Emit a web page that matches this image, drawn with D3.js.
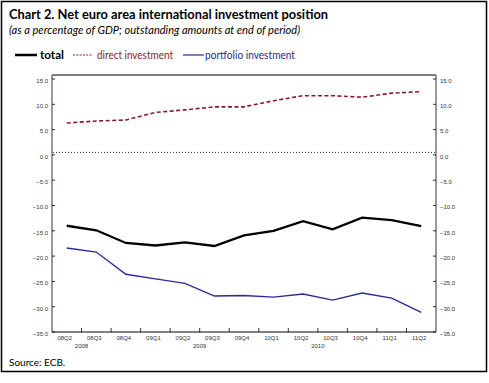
<!DOCTYPE html>
<html><head><meta charset="utf-8">
<script src="https://cdn.jsdelivr.net/npm/d3@7"></script>
<style>body{margin:0;background:#fff}svg{display:block}</style>
</head><body><svg id="c" width="489" height="383"></svg>
<script>
const categories = ["08Q2","08Q3","08Q4","09Q1","09Q2","09Q3","09Q4","10Q1","10Q2","10Q3","10Q4","11Q1","11Q2"];
const years = [{label:"2008", at:"08Q3"},{label:"2009", at:"09Q3"},{label:"2010", at:"10Q3"}];
const total = [-14.0,-14.9,-17.4,-17.9,-17.3,-18.0,-15.9,-15.0,-13.1,-14.7,-12.4,-12.9,-14.1];
const direct = [6.3,6.7,6.9,8.4,8.9,9.5,9.5,10.7,11.7,11.7,11.4,12.2,12.5];
const portfolio = [-18.4,-19.2,-23.6,-24.5,-25.4,-27.9,-27.8,-28.1,-27.5,-28.7,-27.3,-28.3,-31.1];
const yTicks = [15,10,5,0,-5,-10,-15,-20,-25,-30,-35];

(function(){
const svg = d3.select("#c");
const x = d3.scaleBand().domain(categories).range([52,436]).padding(0);
const y = d3.scaleLinear().domain([-35,15]).range([332,79]);
const cx = c => x(c) + x.bandwidth()/2;

svg.append("rect").attr("x",1.5).attr("y",1.5).attr("width",485).attr("height",370)
  .attr("fill","none").attr("stroke","#000").attr("stroke-width",1.5);

svg.append("text").attr("x",9).attr("y",19).attr("font-family","Lato, 'DejaVu Sans', sans-serif")
  .attr("font-weight","bold").attr("font-size",12.5).attr("fill","#000")
  .attr("textLength",319).attr("lengthAdjust","spacingAndGlyphs")
  .text("Chart 2. Net euro area international investment position");
svg.append("text").attr("x",9).attr("y",34).attr("font-family","Lato, 'DejaVu Sans', sans-serif")
  .attr("font-style","italic").attr("font-size",10.5).attr("fill","#000")
  .attr("textLength",291).attr("lengthAdjust","spacingAndGlyphs")
  .text("(as a percentage of GDP; outstanding amounts at end of period)");

const lg = svg.append("g").attr("font-family","Lato, 'DejaVu Sans', sans-serif").attr("font-size",10.5);
lg.append("line").attr("x1",15).attr("x2",37).attr("y1",55).attr("y2",55).attr("stroke","#000").attr("stroke-width",2.5);
lg.append("text").attr("x",40).attr("y",59).attr("font-weight","bold").attr("fill","#000")
  .attr("textLength",24).attr("lengthAdjust","spacingAndGlyphs").text("total");
lg.append("line").attr("x1",73).attr("x2",93).attr("y1",55).attr("y2",55).attr("stroke","#8b1a2e").attr("stroke-width",1).attr("stroke-dasharray","2,1.3");
lg.append("text").attr("x",97).attr("y",59).attr("fill","#8b1a2e")
  .attr("textLength",76).attr("lengthAdjust","spacingAndGlyphs").text("direct investment");
lg.append("line").attr("x1",183).attr("x2",204).attr("y1",55).attr("y2",55).attr("stroke","#2a2a8c").attr("stroke-width",1.2);
lg.append("text").attr("x",205).attr("y",59).attr("fill","#2a2a8c")
  .attr("textLength",90).attr("lengthAdjust","spacingAndGlyphs").text("portfolio investment");

const frameTop = y.range()[1]-4;
svg.append("line").attr("x1",52).attr("x2",436).attr("y1",frameTop).attr("y2",frameTop).attr("stroke","#000").attr("stroke-width",1.2);
svg.append("line").attr("x1",52).attr("x2",52).attr("y1",frameTop).attr("y2",332).attr("stroke","#777").attr("stroke-width",1.5);
svg.append("line").attr("x1",436).attr("x2",436).attr("y1",frameTop).attr("y2",332).attr("stroke","#777").attr("stroke-width",1.5);
svg.append("line").attr("x1",52).attr("x2",436).attr("y1",332).attr("y2",332).attr("stroke","#000").attr("stroke-width",1.2);

const tf = d => d3.format(".1f")(d);
const yl = d3.axisLeft(y).tickValues(yTicks).tickSize(0).tickPadding(4).tickFormat(tf);
const yr = d3.axisRight(y).tickValues(yTicks).tickSize(0).tickPadding(4).tickFormat(tf);
const gl = svg.append("g").attr("transform","translate(52,0)").call(yl);
const gr = svg.append("g").attr("transform","translate(436,0)").call(yr);
[gl,gr].forEach(g=>{
  g.select(".domain").remove();
  g.selectAll("text").attr("font-family","'Liberation Sans', Arial, sans-serif").attr("font-size",6).attr("fill","#333").attr("dy","0.55em");
});
yTicks.forEach(t=>{
  svg.append("line").attr("x1",52).attr("x2",55).attr("y1",y(t)).attr("y2",y(t)).attr("stroke","#000").attr("stroke-width",0.8);
  svg.append("line").attr("x1",433).attr("x2",436).attr("y1",y(t)).attr("y2",y(t)).attr("stroke","#000").attr("stroke-width",0.8);
});

const xa = d3.axisBottom(x).tickSize(0).tickPadding(4);
const gx = svg.append("g").attr("transform","translate(0,332)").call(xa);
gx.select(".domain").remove();
gx.selectAll("text").attr("font-family","'Liberation Sans', Arial, sans-serif").attr("font-size",6).attr("fill","#333").attr("dx","-2");
categories.slice(1).forEach(c=>{
  svg.append("line").attr("x1",x(c)).attr("x2",x(c)).attr("y1",328).attr("y2",332).attr("stroke","#000").attr("stroke-width",0.8);
});
svg.append("g").selectAll("text").data(years).join("text")
  .attr("x",d=>x(d.at)).attr("y",348).attr("text-anchor","middle")
  .attr("font-family","'Liberation Sans', Arial, sans-serif").attr("font-size",6).attr("fill","#333")
  .text(d=>d.label);

svg.append("line").attr("x1",53).attr("x2",435).attr("y1",y(0)-2.5).attr("y2",y(0)-2.5)
  .attr("stroke","#000").attr("stroke-width",0.8).attr("stroke-dasharray","1,2");

const line = d3.line().x((d,i)=>cx(categories[i])).y(d=>y(d));
svg.append("path").datum(direct).attr("d",line).attr("fill","none").attr("stroke","#8b1a2e").attr("stroke-width",1.6).attr("stroke-dasharray","4,2.5");
svg.append("path").datum(portfolio).attr("d",line).attr("fill","none").attr("stroke","#2a2a9c").attr("stroke-width",1.4);
svg.append("path").datum(total).attr("d",line).attr("fill","none").attr("stroke","#000").attr("stroke-width",2.3);

svg.append("text").attr("x",9).attr("y",366).attr("font-family","Lato, 'DejaVu Sans', sans-serif").attr("font-size",10).attr("fill","#000").text("Source: ECB.");
})();
</script></body></html>
